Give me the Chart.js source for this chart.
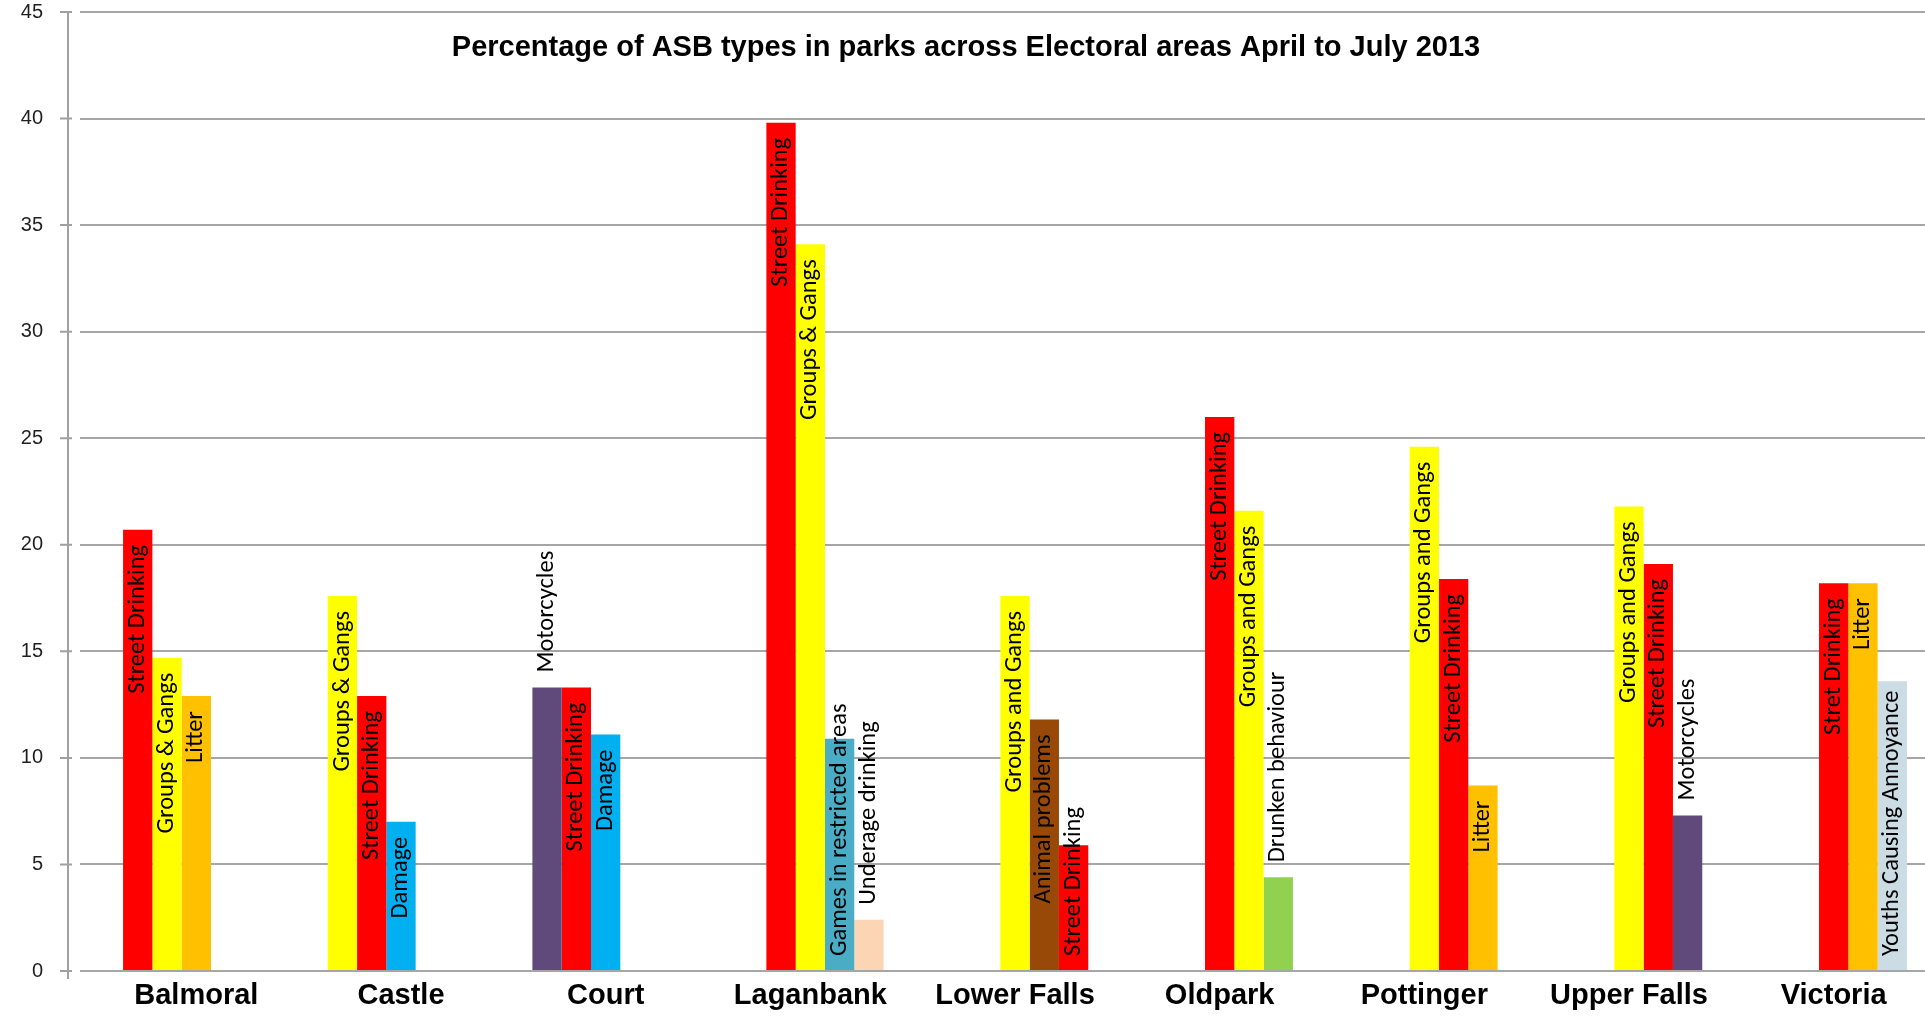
<!DOCTYPE html>
<html>
<head>
<meta charset="utf-8">
<title>ASB types in parks</title>
<script src="https://cdn.jsdelivr.net/npm/chart.js@4.4.1/dist/chart.umd.min.js"></script>
<style>
  html, body { margin: 0; padding: 0; overflow: hidden; background: #fff; }
  canvas { display: block; }
</style>
</head>
<body>
<canvas id="asb" width="1940" height="1016"></canvas>
<script>
// Electoral areas along the bottom
var areas = ['Balmoral', 'Castle', 'Court', 'Laganbank', 'Lower Falls', 'Oldpark', 'Pottinger', 'Upper Falls', 'Victoria'];

// five series columns from the sheet, % of ASB reports (blank = no entry)
var col1 = [20.7, 17.6, 13.3, null, null, null, null, null, null];
var col2 = [14.7, 12.9, 13.3, 39.8, null, null, null, null, null];
var col3 = [12.9, 7.0, 11.1, 34.1, 17.6, 26.0, 24.6, 21.8, 18.2];
var col4 = [null, null, null, 10.9, 11.8, 21.6, 18.4, 19.1, 18.2];
var col5 = [null, null, null, 2.4, 5.9, 4.4, 8.7, 7.3, 13.6];

// which ASB type each of those values is
var type1 = ['Street Drinking', 'Groups & Gangs', 'Motorcycles', null, null, null, null, null, null];
var type2 = ['Groups & Gangs', 'Street Drinking', 'Street Drinking', 'Street Drinking', null, null, null, null, null];
var type3 = ['Litter', 'Damage', 'Damage', 'Groups & Gangs', 'Groups and Gangs', 'Street Drinking', 'Groups and Gangs', 'Groups and Gangs', 'Stret Drinking'];
var type4 = [null, null, null, 'Games in restricted areas', 'Animal problems', 'Groups and Gangs', 'Street Drinking', 'Street Drinking', 'Litter'];
var type5 = [null, null, null, 'Underage drinking', 'Street Drinking', 'Drunken behaviour', 'Litter', 'Motorcycles', 'Youths Causing Annoyance'];

var yTicks = [0, 5, 10, 15, 20, 25, 30, 35, 40, 45];

var chartTitle = 'Percentage of ASB types in parks across Electoral areas April to July 2013';

var colourOf = {
	'Street Drinking': '#ff0000',
	'Stret Drinking': '#ff0000',
	'Groups & Gangs': '#ffff00',
	'Groups and Gangs': '#ffff00',
	'Litter': '#ffc000',
	'Damage': '#00b0f0',
	'Motorcycles': '#604a7b',
	'Games in restricted areas': '#4bacc6',
	'Underage drinking': '#fcd5b5',
	'Animal problems': '#984807',
	'Drunken behaviour': '#92d050',
	'Youths Causing Annoyance': '#ccdce4'
};
// black text doesn't read on these, label goes above the bar instead
var darkFills = ['#604a7b'];

var FONT = "'Liberation Sans', Arial, sans-serif";
var LABEL_FONT = "24.5px Carlito, Lato, sans-serif";

function makeSet(values, types){
	return {
		data: values,
		types: types,
		backgroundColor: types.map(function(t){ return t ? colourOf[t] : 'rgba(0,0,0,0)'; }),
		borderWidth: 0
	};
}

// y axis line sits a little left of where the gridlines start
var axisLine = {
	id: 'axisLine',
	afterDraw: function(chart){
		var c = chart.ctx, y = chart.scales.y, a = chart.chartArea,
			x = a.left - 26;
		c.save();
		c.strokeStyle = '#a0a0a0';
		c.lineWidth = 2;
		c.beginPath();
		c.moveTo(x, a.top);
		c.lineTo(x, a.bottom + 8);
		yTicks.forEach(function(v){
			var p = y.getPixelForValue(v);
			c.moveTo(x - 8, p);
			c.lineTo(x + 4, p);
		});
		c.stroke();
		c.restore();
	}
};

// rotated type names on each bar
var barLabels = {
	id: 'barLabels',
	afterDatasetsDraw: function(chart){
		var c = chart.ctx,
			base = chart.scales.y.getPixelForValue(0),
			pad = 15;
		c.save();
		c.font = LABEL_FONT;
		c.fillStyle = '#000';
		c.textBaseline = 'middle';
		chart.data.datasets.forEach(function(ds, d){
			var meta = chart.getDatasetMeta(d);
			meta.data.forEach(function(bar, i){
				var name = ds.types[i];
				if(!name || ds.data[i] == null) return;
				var w = c.measureText(name).width,
					h = base - bar.y,
					anchor, align;
				if(darkFills.indexOf(colourOf[name]) > -1 || h < 0.6 * (w + pad)){
					anchor = bar.y - pad; align = 'left';		// above the bar
				}else if(h >= w + 2 * pad){
					anchor = bar.y + pad; align = 'right';		// inside, against the top
				}else{
					anchor = base - pad; align = 'left';		// from the base, runs past the top
				}
				c.save();
				c.translate(bar.x, anchor);
				c.rotate(-Math.PI / 2);
				c.textAlign = align;
				c.fillText(name, 0, 0);
				c.restore();
			});
		});
		c.restore();
	}
};

var titleText = {
	id: 'titleText',
	afterDraw: function(chart){
		var c = chart.ctx;
		c.save();
		c.font = 'bold 29px ' + FONT;
		c.fillStyle = '#000';
		c.textAlign = 'center';
		c.textBaseline = 'alphabetic';
		c.fillText(chartTitle, 966, 56);
		c.restore();
	}
};

new Chart(document.getElementById('asb').getContext('2d'), {
	type: 'bar',
	data: {
		labels: areas,
		datasets: [
			makeSet(col1, type1),
			makeSet(col2, type2),
			makeSet(col3, type3),
			makeSet(col4, type4),
			makeSet(col5, type5)
		]
	},
	options: {
		responsive: false,
		animation: false,
		layout: { padding: { left: 21, right: 4, top: 12, bottom: 4 } },
		datasets: { bar: { categoryPercentage: 0.716, barPercentage: 1 } },
		plugins: {
			legend: { display: false },
			tooltip: { enabled: false },
			title: { display: false }
		},
		scales: {
			x: {
				grid: { display: false, drawTicks: false },
				border: { display: false },
				ticks: {
					color: '#000',
					font: { family: FONT, size: 29, weight: 'bold' },
					padding: 8,
					maxRotation: 0,
					autoSkip: false
				},
				afterFit: function(scale){
					scale.height = 41;
				}
			},
			y: {
				min: 0,
				max: 45,
				afterBuildTicks: function(scale){
					scale.ticks = yTicks.map(function(v){ return { value: v }; });
				},
				ticks: {
					color: '#1f1f1f',
					font: { family: FONT, size: 20 },
					padding: 37
				},
				grid: { color: '#a6a6a6', lineWidth: 2, drawTicks: true, tickLength: 14 },
				border: { display: false },
				// tick padding otherwise gets counted into the plot insets too
				afterFit: function(scale){
					scale.width = 73;
					scale.paddingTop = 0;
					scale.paddingBottom = 0;
				}
			}
		}
	},
	plugins: [axisLine, barLabels, titleText]
});
</script>
</body>
</html>
